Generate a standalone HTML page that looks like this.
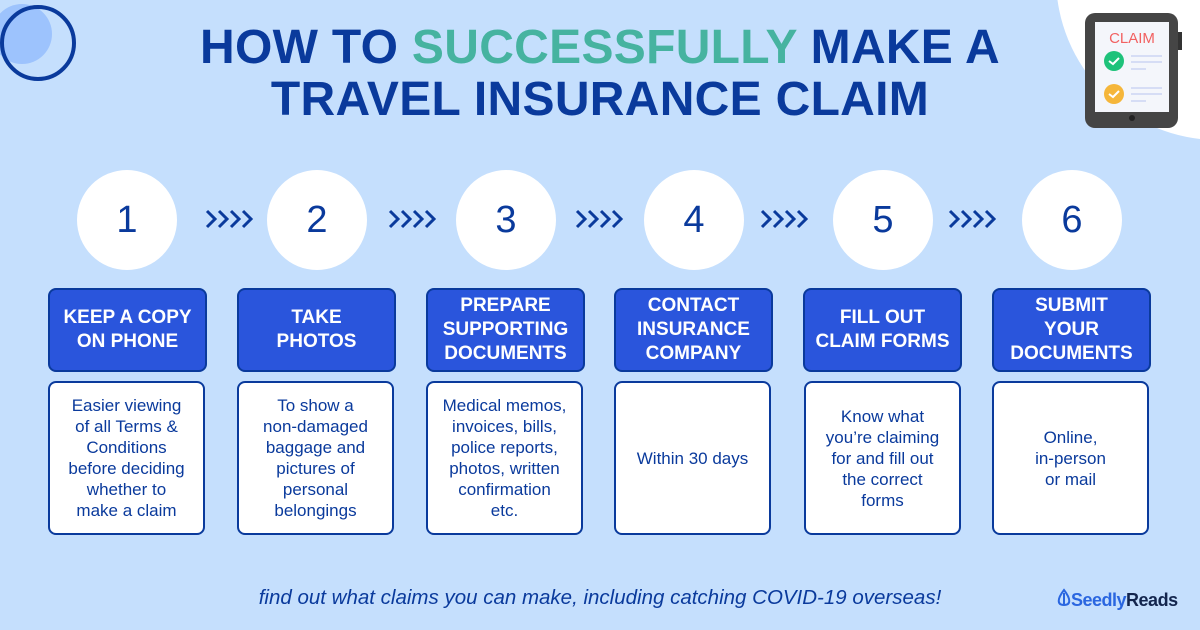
<!DOCTYPE html>
<html><head><meta charset="utf-8"><style>
body{margin:0;width:1200px;height:630px;overflow:hidden;background:#c5dffd;position:relative;font-family:"Liberation Sans",sans-serif;}
.t{position:absolute;left:0;width:1200px;text-align:center;font-weight:bold;color:#0a3a9c;font-size:48px;letter-spacing:0.3px}
.c{position:absolute;width:100px;height:100px;border-radius:50%;background:#fff;top:170px;color:#0a3a9c;font-size:38px;text-align:center;line-height:100px}
.b{position:absolute;top:288px;width:155px;height:80px;background:#2a55dc;border:2px solid #0a3a9c;border-radius:8px;color:#fff;font-weight:bold;font-size:19px;line-height:24px;display:flex;align-items:center;justify-content:center;text-align:center}
.w{position:absolute;top:381px;width:153px;height:150px;background:#fff;border:2px solid #0a3a9c;border-radius:8px;color:#0a3a9c;font-size:17px;line-height:21px;display:flex;align-items:center;justify-content:center;text-align:center}
</style></head><body>
<svg width="1200" height="630" style="position:absolute;left:0;top:0">
<circle cx="1218" cy="-22" r="162" fill="#fff"/>
<circle cx="22" cy="34" r="30" fill="#9dc3fd"/>
<circle cx="38" cy="43" r="36" fill="none" stroke="#0a3a9c" stroke-width="4"/>
<rect x="1085" y="13" width="93" height="115" rx="10" fill="#454545"/>
<rect x="1178" y="32" width="4" height="18" fill="#333"/>
<rect x="1095" y="22" width="74" height="90" fill="#f4f6fb"/>
<text x="1132" y="43" font-size="15" fill="#f26161" text-anchor="middle" font-family="Liberation Sans">CLAIM</text>
<circle cx="1114" cy="61" r="10" fill="#1ec27a"/>
<circle cx="1114" cy="94" r="10" fill="#f5b63a"/>
<path d="M1109 61l4 3 6-6M1109 94l4 3 6-6" stroke="#fff" stroke-width="2" fill="none"/>
<path d="M1131 56h31M1131 62h31M1131 69h15M1131 88h31M1131 94h31M1131 101h15" stroke="#d6ddf5" stroke-width="2"/>
<circle cx="1132" cy="118" r="3" fill="#222"/>
<path d="M1064 590c-7 9-7 15 0 15s7-6 0-15z M1064 593v12" stroke="#2a66e0" stroke-width="2" fill="none"/>
</svg>
<div class="t" style="top:20px">HOW TO <span style="color:#46b3a0">SUCCESSFULLY</span> MAKE A</div>
<div class="t" style="top:72px">TRAVEL INSURANCE CLAIM</div>

<div class="c" style="left:77px">1</div>
<div class="c" style="left:267px">2</div>
<div class="c" style="left:456px">3</div>
<div class="c" style="left:644px">4</div>
<div class="c" style="left:833px">5</div>
<div class="c" style="left:1022px">6</div>

<svg width="1200" height="630" style="position:absolute;left:0;top:0">
<g stroke="#0a3a9c" stroke-width="3" fill="none">
<path id="a" d="M207 211l8 8-8 8M219 211l8 8-8 8M231 211l8 8-8 8M243 211l8 8-8 8"/>
<use href="#a" x="183"/><use href="#a" x="370"/><use href="#a" x="555"/><use href="#a" x="743"/>
</g></svg>

<div class="b" style="left:48px">KEEP A COPY<br>ON PHONE</div>
<div class="b" style="left:237px">TAKE<br>PHOTOS</div>
<div class="b" style="left:426px">PREPARE<br>SUPPORTING<br>DOCUMENTS</div>
<div class="b" style="left:614px">CONTACT<br>INSURANCE<br>COMPANY</div>
<div class="b" style="left:803px">FILL OUT<br>CLAIM FORMS</div>
<div class="b" style="left:992px">SUBMIT<br>YOUR<br>DOCUMENTS</div>

<div class="w" style="left:48px">Easier viewing<br>of all Terms &amp;<br>Conditions<br>before deciding<br>whether to<br>make a claim</div>
<div class="w" style="left:237px">To show a<br>non-damaged<br>baggage and<br>pictures of<br>personal<br>belongings</div>
<div class="w" style="left:426px">Medical memos,<br>invoices, bills,<br>police reports,<br>photos, written<br>confirmation<br>etc.</div>
<div class="w" style="left:614px">Within 30 days</div>
<div class="w" style="left:804px">Know what<br>you’re claiming<br>for and fill out<br>the correct<br>forms</div>
<div class="w" style="left:992px">Online,<br>in-person<br>or mail</div>

<div style="position:absolute;left:0;width:1200px;top:586px;text-align:center;font-style:italic;color:#0a3a9c;font-size:20.5px">find out what claims you can make, including catching COVID-19 overseas!</div>
<div style="position:absolute;left:1071px;top:590px;font-size:18px;font-weight:bold;color:#2a66e0;letter-spacing:-0.5px">Seedly<span style="color:#13254d">Reads</span></div>
</body></html>
